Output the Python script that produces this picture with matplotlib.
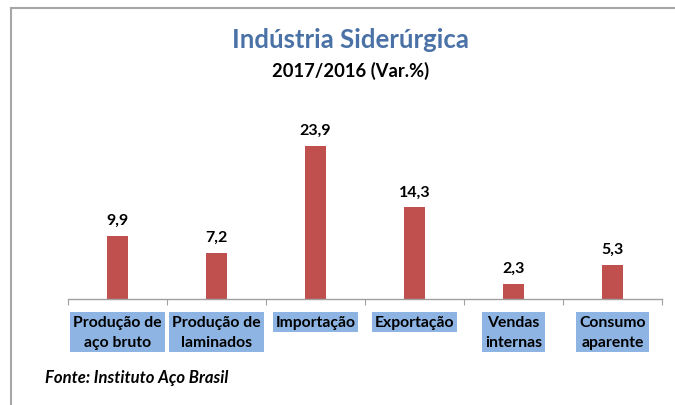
import matplotlib
matplotlib.use("Agg")
import matplotlib.pyplot as plt
from matplotlib.transforms import blended_transform_factory

categories = ["Produção de\naço bruto", "Produção de\nlaminados", "Importação",
              "Exportação", "Vendas\ninternas", "Consumo\naparente"]
values = [9.9, 7.2, 23.9, 14.3, 2.3, 5.3]
value_labels = ["9,9", "7,2", "23,9", "14,3", "2,3", "5,3"]

plt.rcParams['font.family'] = ['Lato', 'DejaVu Sans']

fig = plt.figure(figsize=(6.75, 4.06), dpi=100)
W, H = 675, 406

# outer frame
fig.add_artist(plt.Line2D([11/W, 11/W], [0, 1 - 9/H], color='#a6a6a6', lw=1.5, transform=fig.transFigure))
fig.add_artist(plt.Line2D([11/W, 1], [1 - 9/H, 1 - 9/H], color='#a6a6a6', lw=1.5, transform=fig.transFigure))

ax = fig.add_axes([68/W, (H-300)/H, 594/W, 192/H])
x = list(range(len(categories)))
ax.bar(x, values, width=0.22, color='#c0504d')
ax.set_xlim(-0.5, 5.5)
ax.set_ylim(0, 30)
for s in ['top', 'right', 'left']:
    ax.spines[s].set_visible(False)
ax.spines['bottom'].set_color('#a0a0a0')
ax.spines['bottom'].set_linewidth(1.0)
ax.set_yticks([])
ax.set_xticks([i - 0.5 for i in range(len(categories) + 1)])
ax.set_xticklabels([])
ax.tick_params(axis='x', direction='out', length=4, color='#a0a0a0')

for xi, v, lab in zip(x, values, value_labels):
    ax.annotate(lab, (xi, v), xytext=(0, 6.5), textcoords='offset points',
                ha='center', va='bottom', fontsize=11.5, fontweight='bold', color='black')

trans = blended_transform_factory(ax.transData, fig.transFigure)
for xi, c in zip(x, categories):
    ax.text(xi, 1 - 316/H, c, transform=trans, ha='center', va='top',
            fontsize=11.3, fontweight='bold', color='black', linespacing=1.55,
            bbox=dict(boxstyle='square,pad=0.18', facecolor='#8db4e2', edgecolor='none'))

fig.text(350/W, 1 - 40/H, "Indústria Siderúrgica", ha='center', va='center',
         fontsize=18.5, fontweight='bold', color='#4a72a6')
fig.text(351/W, 1 - 71/H, "2017/2016 (Var.%)", ha='center', va='center',
         fontsize=13.2, fontweight='bold', color='black')
fig.text(45/W, 1 - 378/H, "Fonte: Instituto Aço Brasil", ha='left', va='center',
         fontsize=12, fontweight='bold', style='italic', color='black')

fig.savefig("out.png", dpi=100)
